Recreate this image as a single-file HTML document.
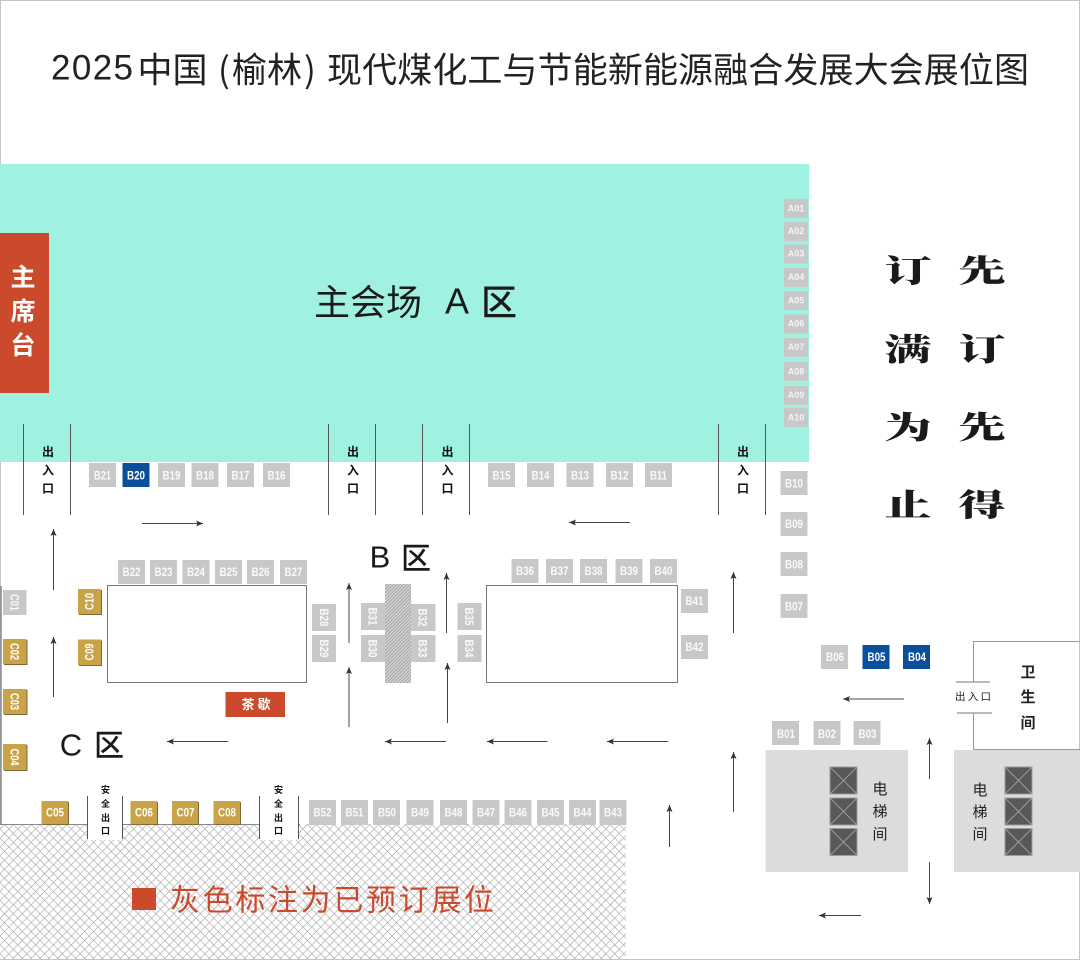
<!DOCTYPE html>
<html lang="zh"><head><meta charset="utf-8"><title>展位图</title>
<style>
html,body{margin:0;padding:0;background:#fff}
svg{display:block}
text{font-family:"Liberation Sans","Noto Sans CJK SC",sans-serif;text-anchor:middle;dominant-baseline:central}
.cjk{font-family:"Noto Sans CJK SC",sans-serif}
.g{fill:#c8c8c8}.bl{fill:#0a4f9c}.au{fill:#c9a347;filter:drop-shadow(1px 1px 0 #7d6a3a)}
.t text,text.b{font-size:12px;fill:#fafafa;font-weight:700}
.ln{stroke:#555;stroke-width:1;fill:none}
.ar{stroke:#444;stroke-width:1;fill:none;marker-end:url(#m)}
.ex{font-family:"Noto Sans CJK SC",sans-serif;font-weight:700;font-size:12px;fill:#111}
.sf{font-family:"Noto Sans CJK SC",sans-serif;font-weight:700;font-size:9px;fill:#111}
.big{font-family:"Noto Serif CJK SC",serif;font-weight:900;font-size:47px;fill:#1a1a1a}
.tt{text-anchor:start;font-size:35px;fill:#222}
</style></head><body>
<svg width="1080" height="960" viewBox="0 0 1080 960" xmlns="http://www.w3.org/2000/svg">
<defs>
<marker id="m" markerWidth="8" markerHeight="6" refX="7" refY="3" orient="auto" markerUnits="userSpaceOnUse"><path d="M0 0L7 3L0 6L1.500 3Z" fill="#333"/></marker>
<pattern id="d" width="6.300" height="6.300" patternUnits="userSpaceOnUse" patternTransform="rotate(45)"><rect width="6.300" height="6.300" fill="#fff"/><path d="M0 0H6.300M0 0V6.300" stroke="#a4a4a4" stroke-width="1.200"/></pattern>
<pattern id="h" width="2.400" height="2.400" patternUnits="userSpaceOnUse" patternTransform="rotate(45)"><rect width="2.400" height="2.400" fill="#d0d0d0"/><path d="M0 0V2.400" stroke="#8a8a8a" stroke-width="1.100"/></pattern>
</defs>
<rect x=".5" y=".5" width="1079" height="959" fill="#fff" stroke="#c4c4c4"/>
<text class="tt" x="51" y="68" font-family="Liberation Sans" textLength="82" lengthAdjust="spacing" style="font-family:'Liberation Sans',sans-serif">2025</text>
<text class="cjk tt" x="137.500" y="68">中国</text>
<text class="cjk tt" x="218" y="68">(</text>
<text class="cjk tt" x="232" y="68">榆林</text>
<text class="cjk tt" x="304" y="68">)</text>
<text class="cjk tt" x="327" y="68" textLength="702" lengthAdjust="spacing">现代煤化工与节能新能源融合发展大会展位图</text>
<rect x="0" y="164" width="809" height="298" fill="#9ff1e1"/>
<rect x="0" y="233" width="49" height="160" fill="#cc4a2c"/>
<g class="cjk" font-size="25" font-weight="700" fill="#fff"><text class="cjk" x="23" y="276">主</text><text class="cjk" x="23" y="310">席</text><text class="cjk" x="23" y="344">台</text></g>
<g font-size="36" fill="#1a1a1a"><text class="cjk" x="368" y="300" textLength="108">主会场</text><text x="457" y="301" font-size="36">A</text><text class="cjk" x="499" y="300" font-weight="500">区</text></g>
<g font-size="30" fill="#1a1a1a"><text x="380" y="557" font-size="31">B</text><text class="cjk" x="416" y="556" font-weight="500">区</text><text x="71" y="745" font-size="31">C</text><text class="cjk" x="109" y="743" font-weight="500">区</text></g>

<!-- A booths -->
<g class="g"><rect x="784" y="199" width="24" height="19"/><rect x="784" y="222" width="24" height="19"/><rect x="784" y="244.500" width="24" height="19"/><rect x="784" y="268" width="24" height="19"/><rect x="784" y="291" width="24" height="19"/><rect x="784" y="314.500" width="24" height="19"/><rect x="784" y="338" width="24" height="19"/><rect x="784" y="362" width="24" height="19"/><rect x="784" y="386" width="24" height="19"/><rect x="784" y="408" width="24" height="19"/></g>
<g fill="#f4f4f4" font-size="9" font-weight="700"><text x="796" y="208.500">A01</text><text x="796" y="231">A02</text><text x="796" y="253.500">A03</text><text x="796" y="277">A04</text><text x="796" y="300.500">A05</text><text x="796" y="323.500">A06</text><text x="796" y="347">A07</text><text x="796" y="371.500">A08</text><text x="796" y="395">A09</text><text x="796" y="417.500">A10</text></g>

<!-- right notice -->
<g>
<text class="big" transform="translate(908 269) scale(1 .66)">订</text><text class="big" transform="translate(982 269) scale(1 .66)">先</text>
<text class="big" transform="translate(908 347.500) scale(1 .66)">满</text><text class="big" transform="translate(982 347.500) scale(1 .66)">订</text>
<text class="big" transform="translate(908 425.500) scale(1 .66)">为</text><text class="big" transform="translate(982 425.500) scale(1 .66)">先</text>
<text class="big" transform="translate(908 503) scale(1 .66)">止</text><text class="big" transform="translate(982 503) scale(1 .66)">得</text>
</g>

<!-- exits -->
<g class="ln"><path d="M23.500 424V515M70.500 424V515M328.500 424V515M375.500 424V515M422.500 424V515M469.500 424V515M718.500 424V515M765.500 424V515"/></g>
<g><text class="ex" x="48" y="451.500">出</text><text class="ex" x="48" y="470">入</text><text class="ex" x="48" y="488">口</text>
<text class="ex" x="353" y="451.500">出</text><text class="ex" x="353" y="470">入</text><text class="ex" x="353" y="488">口</text>
<text class="ex" x="447.500" y="451.500">出</text><text class="ex" x="447.500" y="470">入</text><text class="ex" x="447.500" y="488">口</text>
<text class="ex" x="743" y="451.500">出</text><text class="ex" x="743" y="470">入</text><text class="ex" x="743" y="488">口</text></g>

<!-- hatch floor -->
<rect x="0" y="824" width="626" height="135" fill="url(#d)"/>
<path d="M0 824.500H300" stroke="#888" stroke-width="1"/>
<rect x="87.500" y="790" width="35" height="50" fill="#fff"/><rect x="259.500" y="790" width="39" height="50" fill="#fff"/>
<path class="ln" d="M87.500 796V839M122.500 796V839M259.500 796V839M298.500 796V839" stroke="#777"/>
<g><text class="sf" x="105.500" y="789.500">安</text><text class="sf" x="105.500" y="803.500">全</text><text class="sf" x="105.500" y="817.500">出</text><text class="sf" x="105.500" y="830.500">口</text>
<text class="sf" x="278.500" y="789.500">安</text><text class="sf" x="278.500" y="803.500">全</text><text class="sf" x="278.500" y="817.500">出</text><text class="sf" x="278.500" y="830.500">口</text></g>
<path d="M1 586V824" stroke="#888" stroke-width="1.500"/>

<!-- legend -->
<rect x="132" y="888" width="24" height="22" fill="#cc4a2c"/>
<text class="cjk" x="332" y="897.500" font-size="30" fill="#cc4a2c" textLength="324" lengthAdjust="spacing">灰色标注为已预订展位</text>

<!-- tables -->
<rect x="107.500" y="585.500" width="199" height="97" fill="#fff" stroke="#777"/>
<rect x="486.500" y="585.500" width="191" height="97" fill="#fff" stroke="#777"/>
<rect x="385" y="584" width="26" height="99" fill="url(#h)"/>
<rect x="225.500" y="692" width="59.500" height="25" fill="#cc4a2c"/>
<text class="cjk" x="256" y="703.500" font-size="13" font-weight="700" fill="#fff" textLength="29" lengthAdjust="spacing">茶歇</text>

<!-- B booths -->
<g class="g">
<rect x="89" y="463" width="27" height="24"/><rect x="158" y="463" width="27" height="24"/><rect x="191.500" y="463" width="27" height="24"/><rect x="227" y="463" width="27" height="24"/><rect x="263" y="463" width="27" height="24"/>
<rect x="488" y="463" width="27" height="24"/><rect x="527" y="463" width="27" height="24"/><rect x="566.500" y="463" width="27" height="24"/><rect x="606" y="463" width="27" height="24"/><rect x="645" y="463" width="27" height="24"/>
<rect x="118" y="560" width="27" height="24"/><rect x="150" y="560" width="27" height="24"/><rect x="182.500" y="560" width="27" height="24"/><rect x="215" y="560" width="27" height="24"/><rect x="247" y="560" width="27" height="24"/><rect x="280" y="560" width="27" height="24"/>
<rect x="511.500" y="559" width="27" height="24"/><rect x="546" y="559" width="27" height="24"/><rect x="580" y="559" width="27" height="24"/><rect x="615.500" y="559" width="27" height="24"/><rect x="650" y="559" width="27" height="24"/>
<rect x="312" y="604" width="24" height="27"/><rect x="312" y="635" width="24" height="27"/><rect x="361" y="603" width="24" height="27"/><rect x="361" y="635" width="24" height="27"/><rect x="411" y="604" width="24.500" height="27"/><rect x="411" y="635" width="24.500" height="27"/><rect x="457.500" y="603" width="24" height="27"/><rect x="457.500" y="635" width="24" height="27"/>
<rect x="681" y="589" width="27" height="24"/><rect x="681" y="635" width="27" height="24"/>
<rect x="780.500" y="471" width="27" height="24"/><rect x="780.500" y="512" width="27" height="24"/><rect x="780.500" y="552" width="27" height="24"/><rect x="780.500" y="594" width="27" height="24"/>
<rect x="821" y="645" width="27" height="24"/><rect x="772" y="721" width="27" height="24"/><rect x="813.500" y="721" width="27" height="24"/><rect x="853.500" y="721" width="27" height="24"/>
<rect x="309" y="800" width="27" height="25"/><rect x="341" y="800" width="27" height="25"/><rect x="373" y="800" width="27" height="25"/><rect x="406.500" y="800" width="27" height="25"/><rect x="440" y="800" width="27" height="25"/><rect x="472.500" y="800" width="27" height="25"/><rect x="504.500" y="800" width="27" height="25"/><rect x="537" y="800" width="27" height="25"/><rect x="569" y="800" width="27" height="25"/><rect x="599.500" y="800" width="27" height="25"/>
<rect x="3" y="590" width="23.500" height="25"/>
</g>
<g class="bl"><rect x="122.500" y="463" width="27" height="24"/><rect x="862.500" y="645" width="27" height="24"/><rect x="903" y="645" width="27" height="24"/></g>
<g class="au"><rect x="3" y="639" width="23.500" height="25"/><rect x="3" y="689" width="23.500" height="25"/><rect x="3" y="744" width="23.500" height="26"/><rect x="78" y="589" width="23" height="25"/><rect x="78" y="639.500" width="23" height="25.500"/><rect x="41.500" y="801" width="26.500" height="23"/><rect x="130.500" y="801" width="26.500" height="23"/><rect x="172" y="801" width="26" height="23"/><rect x="213.500" y="801" width="26.500" height="23"/></g>

<g class="t">
<text x="102.500" y="475.500" textLength="17" lengthAdjust="spacingAndGlyphs">B21</text><text x="136" y="475.500" textLength="18" lengthAdjust="spacingAndGlyphs" style="fill:#fff">B20</text><text x="171.500" y="475.500" textLength="18" lengthAdjust="spacingAndGlyphs">B19</text><text x="205" y="475.500" textLength="18" lengthAdjust="spacingAndGlyphs">B18</text><text x="240.500" y="475.500" textLength="18" lengthAdjust="spacingAndGlyphs">B17</text><text x="276.500" y="475.500" textLength="18" lengthAdjust="spacingAndGlyphs">B16</text>
<text x="501.500" y="475.500" textLength="18" lengthAdjust="spacingAndGlyphs">B15</text><text x="540.500" y="475.500" textLength="18" lengthAdjust="spacingAndGlyphs">B14</text><text x="580" y="475.500" textLength="18" lengthAdjust="spacingAndGlyphs">B13</text><text x="619.500" y="475.500" textLength="18" lengthAdjust="spacingAndGlyphs">B12</text><text x="658.500" y="475.500" textLength="17" lengthAdjust="spacingAndGlyphs">B11</text>
<text x="131.500" y="572" textLength="18" lengthAdjust="spacingAndGlyphs">B22</text><text x="163.500" y="572" textLength="18" lengthAdjust="spacingAndGlyphs">B23</text><text x="196" y="572" textLength="18" lengthAdjust="spacingAndGlyphs">B24</text><text x="228.500" y="572" textLength="18" lengthAdjust="spacingAndGlyphs">B25</text><text x="260.500" y="572" textLength="18" lengthAdjust="spacingAndGlyphs">B26</text><text x="293.500" y="572" textLength="18" lengthAdjust="spacingAndGlyphs">B27</text>
<text x="525" y="571" textLength="18" lengthAdjust="spacingAndGlyphs">B36</text><text x="559.500" y="571" textLength="18" lengthAdjust="spacingAndGlyphs">B37</text><text x="593.500" y="571" textLength="18" lengthAdjust="spacingAndGlyphs">B38</text><text x="629" y="571" textLength="18" lengthAdjust="spacingAndGlyphs">B39</text><text x="663.500" y="571" textLength="18" lengthAdjust="spacingAndGlyphs">B40</text>
<text x="0" y="0" transform="translate(324 617.500) rotate(90)" textLength="18" lengthAdjust="spacingAndGlyphs">B28</text><text x="0" y="0" transform="translate(324 648.500) rotate(90)" textLength="18" lengthAdjust="spacingAndGlyphs">B29</text>
<text x="0" y="0" transform="translate(372.500 616.500) rotate(90)" textLength="18" lengthAdjust="spacingAndGlyphs">B31</text><text x="0" y="0" transform="translate(372.500 648.500) rotate(90)" textLength="18" lengthAdjust="spacingAndGlyphs">B30</text>
<text x="0" y="0" transform="translate(422.500 617.500) rotate(90)" textLength="18" lengthAdjust="spacingAndGlyphs">B32</text><text x="0" y="0" transform="translate(422.500 648.500) rotate(90)" textLength="18" lengthAdjust="spacingAndGlyphs">B33</text>
<text x="0" y="0" transform="translate(469 616.500) rotate(90)" textLength="18" lengthAdjust="spacingAndGlyphs">B35</text><text x="0" y="0" transform="translate(469 648.500) rotate(90)" textLength="18" lengthAdjust="spacingAndGlyphs">B34</text>
<text x="694.500" y="601" textLength="18" lengthAdjust="spacingAndGlyphs">B41</text><text x="694.500" y="647" textLength="18" lengthAdjust="spacingAndGlyphs">B42</text>
<text x="794" y="483.500" textLength="18" lengthAdjust="spacingAndGlyphs">B10</text><text x="794" y="524" textLength="18" lengthAdjust="spacingAndGlyphs">B09</text><text x="794" y="564.500" textLength="18" lengthAdjust="spacingAndGlyphs">B08</text><text x="794" y="606.500" textLength="18" lengthAdjust="spacingAndGlyphs">B07</text>
<text x="835" y="657" textLength="18" lengthAdjust="spacingAndGlyphs">B06</text><text x="876.500" y="657" textLength="18" lengthAdjust="spacingAndGlyphs" style="fill:#fff">B05</text><text x="917" y="657" textLength="18" lengthAdjust="spacingAndGlyphs" style="fill:#fff">B04</text>
<text x="786" y="734" textLength="18" lengthAdjust="spacingAndGlyphs">B01</text><text x="827" y="734" textLength="18" lengthAdjust="spacingAndGlyphs">B02</text><text x="867.500" y="734" textLength="18" lengthAdjust="spacingAndGlyphs">B03</text>
<text x="322.500" y="812.500" textLength="18" lengthAdjust="spacingAndGlyphs">B52</text><text x="354.500" y="812.500" textLength="18" lengthAdjust="spacingAndGlyphs">B51</text><text x="387" y="812.500" textLength="18" lengthAdjust="spacingAndGlyphs">B50</text><text x="420" y="812.500" textLength="18" lengthAdjust="spacingAndGlyphs">B49</text><text x="453.500" y="812.500" textLength="18" lengthAdjust="spacingAndGlyphs">B48</text><text x="486" y="812.500" textLength="18" lengthAdjust="spacingAndGlyphs">B47</text><text x="518" y="812.500" textLength="18" lengthAdjust="spacingAndGlyphs">B46</text><text x="550.500" y="812.500" textLength="18" lengthAdjust="spacingAndGlyphs">B45</text><text x="582.500" y="812.500" textLength="18" lengthAdjust="spacingAndGlyphs">B44</text><text x="613" y="812.500" textLength="18" lengthAdjust="spacingAndGlyphs">B43</text>
<text x="0" y="0" transform="translate(14.500 602.500) rotate(90)" textLength="17" lengthAdjust="spacingAndGlyphs">C01</text><text x="0" y="0" transform="translate(14.500 651.500) rotate(90)" textLength="17" lengthAdjust="spacingAndGlyphs" style="fill:#fff">C02</text><text x="0" y="0" transform="translate(14.500 701.500) rotate(90)" textLength="17" lengthAdjust="spacingAndGlyphs" style="fill:#fff">C03</text><text x="0" y="0" transform="translate(14.500 757) rotate(90)" textLength="17" lengthAdjust="spacingAndGlyphs" style="fill:#fff">C04</text>
<text x="0" y="0" transform="translate(89.500 601.500) rotate(-90)" textLength="17" lengthAdjust="spacingAndGlyphs" style="fill:#fff">C10</text><text x="0" y="0" transform="translate(89.500 652) rotate(-90)" textLength="17" lengthAdjust="spacingAndGlyphs" style="fill:#fff">C09</text>
<text x="55" y="812.500" textLength="18" lengthAdjust="spacingAndGlyphs" style="fill:#fff">C05</text><text x="144" y="812.500" textLength="18" lengthAdjust="spacingAndGlyphs" style="fill:#fff">C06</text><text x="185.500" y="812.500" textLength="18" lengthAdjust="spacingAndGlyphs" style="fill:#fff">C07</text><text x="227" y="812.500" textLength="18" lengthAdjust="spacingAndGlyphs" style="fill:#fff">C08</text>
</g>

<!-- restroom -->
<path d="M973.500 682V641.500H1079.500M973.500 713V749.500H1080" fill="none" stroke="#999"/>
<path d="M956 682H990M957 713H992" stroke="#777" stroke-width="1"/>
<text class="cjk" x="973" y="696.500" font-size="10.500" fill="#222" textLength="36" lengthAdjust="spacing">出入口</text>
<g font-size="15" font-weight="700" fill="#222"><text class="cjk" x="1028" y="671.500">卫</text><text class="cjk" x="1028" y="696.500">生</text><text class="cjk" x="1028" y="722.500">间</text></g>

<!-- elevators -->
<rect x="765.500" y="750" width="142.500" height="122" fill="#dcdcdd"/>
<rect x="954" y="750" width="126" height="122" fill="#dcdcdd"/>
<g fill="#58585a" stroke="#9a9a9a" stroke-width="1">
<rect x="830" y="767" width="27" height="27"/><rect x="830" y="798" width="27" height="27"/><rect x="830" y="828.500" width="27" height="27"/>
<rect x="1005" y="767" width="27" height="27"/><rect x="1005" y="798" width="27" height="27"/><rect x="1005" y="828.500" width="27" height="27"/>
</g>
<path d="M830 767L857 794M857 767L830 794M830 798L857 825M857 798L830 825M830 828.500L857 855.500M857 828.500L830 855.500M1005 767L1032 794M1032 767L1005 794M1005 798L1032 825M1032 798L1005 825M1005 828.500L1032 855.500M1032 828.500L1005 855.500" stroke="#9a9a9a" stroke-width="1"/>
<g font-size="15" fill="#222"><text class="cjk" x="880" y="788.500">电</text><text class="cjk" x="880" y="811">梯</text><text class="cjk" x="880" y="833.500">间</text><text class="cjk" x="980" y="789.500">电</text><text class="cjk" x="980" y="811.500">梯</text><text class="cjk" x="980" y="833.500">间</text></g>

<!-- arrows -->
<g class="ar">
<path d="M53.500 590V529"/><path d="M53.500 697V637"/><path d="M349 643V583"/><path d="M349 727V667"/><path d="M446.500 633V573"/><path d="M447.500 723V663"/><path d="M733.500 633V572"/><path d="M733.500 812V752"/><path d="M929.500 779V738"/><path d="M929.500 862V904"/><path d="M669.500 847V805"/>
<path d="M142 523.500H203"/><path d="M630 522.500H569"/><path d="M904 699H843"/><path d="M861 915.500H819"/><path d="M228 741.500H167"/><path d="M446 741.500H385"/><path d="M547.500 741.500H487"/><path d="M668 741.500H607"/>
</g>
</svg>
</body></html>
